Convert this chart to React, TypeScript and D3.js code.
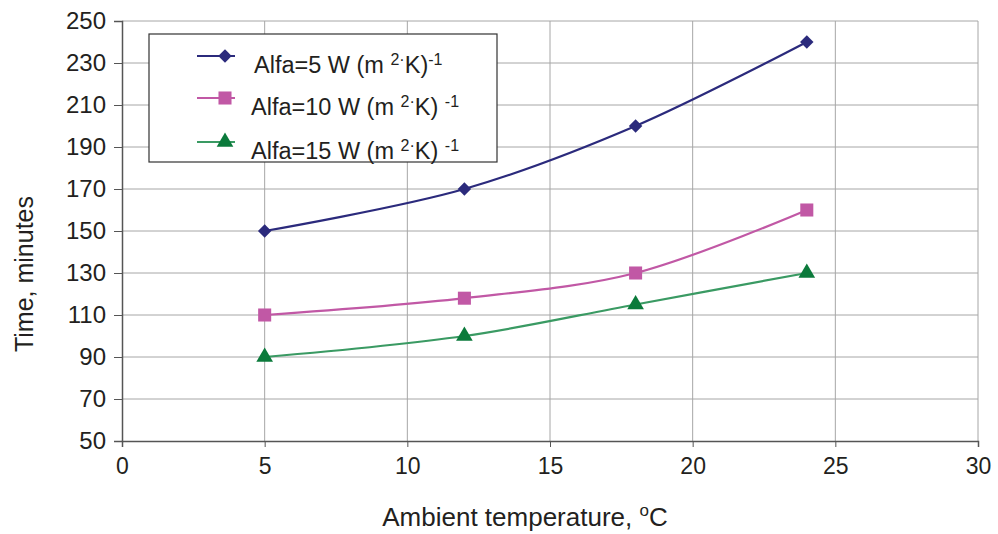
import React, { useEffect, useRef } from 'react';
import * as d3 from 'd3';

const temps = [5, 12, 18, 24];
const alfa5 = [150, 170, 200, 240];
const alfa10 = [110, 118, 130, 160];
const alfa15 = [90, 100, 115, 130];
const xTicks = [0, 5, 10, 15, 20, 25, 30];
const yTicks = [50, 70, 90, 110, 130, 150, 170, 190, 210, 230, 250];
const legendNames = ['5', '10', '15'];

// square turned 45 degrees, like the Excel diamond
const diamond: d3.SymbolType = {
  draw(ctx, size) {
    const r = Math.sqrt(size / 2);
    ctx.moveTo(0, -r);
    ctx.lineTo(r, 0);
    ctx.lineTo(0, r);
    ctx.lineTo(-r, 0);
    ctx.closePath();
  },
};

const App = () => {
  const ref = useRef<SVGSVGElement>(null);

  useEffect(() => {
    if (!ref.current) return;
    const svg = d3.select(ref.current);
    svg.selectAll('*').remove();

    const left = 122, right = 978, top = 21, bottom = 441;
    const x = d3.scaleLinear().domain([0, 30]).range([left, right]);
    const y = d3.scaleLinear().domain([50, 250]).range([bottom, top]);
    const font = 'Liberation Sans, Arial, sans-serif';
    const ink = '#231f20';

    svg.append('rect').attr('width', 998).attr('height', 534).attr('fill', '#fff');

    // grid
    const grid = svg.append('g').attr('stroke', '#a6a6a6').attr('stroke-width', 1);
    xTicks.slice(1).forEach(t => {
      grid.append('line').attr('x1', x(t)).attr('x2', x(t)).attr('y1', top).attr('y2', bottom);
    });
    yTicks.slice(1).forEach(t => {
      grid.append('line').attr('x1', left).attr('x2', right).attr('y1', y(t)).attr('y2', y(t));
    });

    // axes
    const yAxis = svg.append('g')
      .attr('transform', `translate(${left},0)`)
      .call(d3.axisLeft(y).tickValues(yTicks).tickSize(8).tickPadding(8));
    yAxis.select('.domain').attr('stroke', '#555').attr('stroke-width', 1.5);
    yAxis.selectAll('.tick line').attr('stroke', '#555');
    yAxis.selectAll('text').attr('font-family', font).attr('font-size', 24).attr('fill', ink);

    const xAxis = svg.append('g')
      .attr('transform', `translate(0,${bottom})`)
      .call(d3.axisBottom(x).tickValues(xTicks).tickSize(6).tickPadding(11));
    xAxis.select('.domain').attr('stroke', '#555').attr('stroke-width', 1.5);
    xAxis.selectAll('.tick line').attr('stroke', '#555');
    xAxis.selectAll('text').attr('font-family', font).attr('font-size', 23).attr('fill', ink);

    // titles
    svg.append('text')
      .attr('transform', `translate(33,274) rotate(-90)`)
      .attr('text-anchor', 'middle')
      .attr('font-family', font).attr('font-size', 25).attr('fill', ink)
      .text('Time, minutes');

    const xt = svg.append('text')
      .attr('x', 525).attr('y', 526)
      .attr('text-anchor', 'middle')
      .attr('font-family', font).attr('font-size', 26).attr('fill', ink);
    xt.append('tspan').text('Ambient temperature, ');
    xt.append('tspan').attr('font-size', 17).attr('dy', -10).text('o');
    xt.append('tspan').attr('dy', 10).text('C');

    const series = [
      { values: alfa5, line: '#2b2a7c', marker: '#2b2a7c', shape: diamond, size: 90 },
      { values: alfa10, line: '#c158a5', marker: '#c158a5', shape: d3.symbolSquare, size: 170 },
      { values: alfa15, line: '#3a9a63', marker: '#0b7a3b', shape: d3.symbolTriangle, size: 120 },
    ];

    const line = d3.line<number>()
      .x((_, i) => x(temps[i]))
      .y(d => y(d))
      .curve(d3.curveCatmullRom.alpha(0.5));

    series.forEach(s => {
      svg.append('path')
        .attr('d', line(s.values))
        .attr('fill', 'none')
        .attr('stroke', s.line)
        .attr('stroke-width', 2.2);
      svg.selectAll(null)
        .data(s.values)
        .enter()
        .append('path')
        .attr('d', d3.symbol().type(s.shape).size(s.size)())
        .attr('transform', (d, i) => `translate(${x(temps[i])},${y(d)})`)
        .attr('fill', s.marker);
    });

    // legend
    const lg = svg.append('g');
    lg.append('rect')
      .attr('x', 149).attr('y', 34).attr('width', 348).attr('height', 128)
      .attr('fill', '#fff').attr('stroke', '#333').attr('stroke-width', 1.2);
    const rowsY = [56, 98, 142];
    series.forEach((s, i) => {
      const ly = rowsY[i];
      lg.append('line')
        .attr('x1', 197).attr('x2', 235).attr('y1', ly).attr('y2', ly)
        .attr('stroke', s.line).attr('stroke-width', 2.2);
      lg.append('path')
        .attr('d', d3.symbol().type(s.shape).size(s.size)())
        .attr('transform', `translate(225,${ly})`)
        .attr('fill', s.marker);
      const t = lg.append('text')
        .attr('x', i === 0 ? 254 : 251).attr('y', ly + 17)
        .attr('font-family', font).attr('font-size', 23.5).attr('fill', ink);
      t.append('tspan').text(`Alfa=${legendNames[i]} W (m `);
      t.append('tspan').attr('font-size', 16).attr('dy', -8).text('2·');
      t.append('tspan').attr('dy', 8).text(i === 0 ? 'K)' : 'K) ');
      t.append('tspan').attr('font-size', 16).attr('dy', -8).text('-1');
    });
  }, []);

  return (
    <svg ref={ref} width={998} height={534} style={{ display: 'block', position: 'absolute', left: 0, top: 0 }} />
  );
};

export default App;
